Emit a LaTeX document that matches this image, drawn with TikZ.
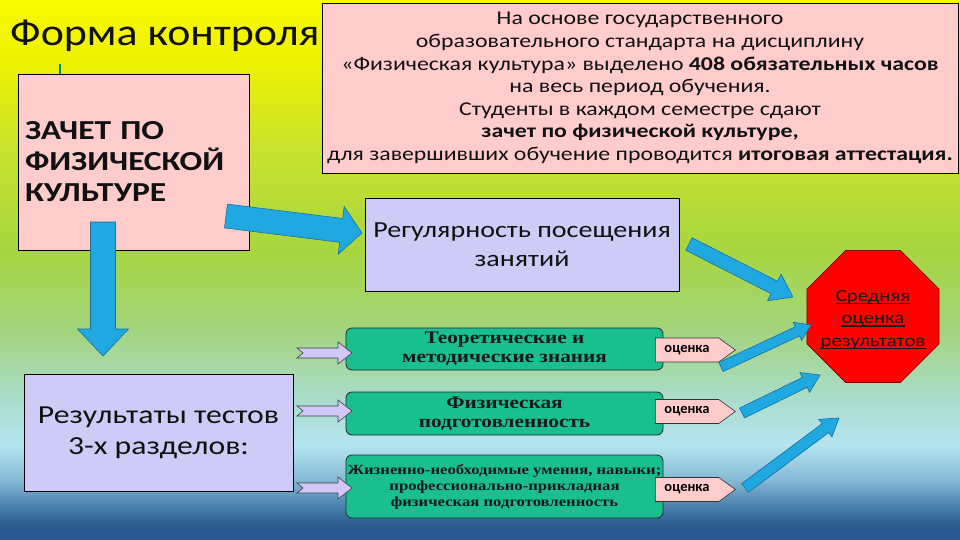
\documentclass[tikz,border=0pt]{standalone}
\usepackage{fontspec}
\setmainfont{Carlito}[FakeStretch=1.22]
\newfontfamily\plainfont{Carlito}
\newfontfamily\grfont{Liberation Serif}[FakeStretch=1.2]
\usetikzlibrary{calc,shapes.geometric,shapes.arrows,shapes.symbols}
\definecolor{bg0}{HTML}{FAFA00}
\definecolor{bg1}{HTML}{EEF200}
\definecolor{bg2}{HTML}{C8E22E}
\definecolor{bg3}{HTML}{A8D640}
\definecolor{bg4}{HTML}{A2D47E}
\definecolor{bg5}{HTML}{AADCCC}
\definecolor{bg6}{HTML}{B4E4F0}
\definecolor{bg7}{HTML}{86BAD6}
\definecolor{bg8}{HTML}{4A82B0}
\definecolor{bg9}{HTML}{2A5A90}
\pgfdeclareverticalshading{bgshade}{100bp}{color(0bp)=(bg9); color(25bp)=(bg9); color(26.4bp)=(bg9); color(28.2bp)=(bg8); color(30.6bp)=(bg7); color(33.8bp)=(bg6); color(38bp)=(bg5); color(44.4bp)=(bg4); color(51.9bp)=(bg3); color(61.1bp)=(bg2); color(69.4bp)=(bg1); color(75bp)=(bg0); color(100bp)=(bg0)}
\definecolor{pinkfill}{HTML}{FFCCCC}
\definecolor{lavfill}{HTML}{CECCF6}
\definecolor{greenfill}{HTML}{19BF8F}
\definecolor{arrowfill}{HTML}{20A8E0}
\definecolor{arrowedge}{HTML}{1670A0}
\definecolor{chevfill}{HTML}{D2C8F8}
\definecolor{darkred}{HTML}{800000}
\definecolor{txtdark}{HTML}{111111}
\newcommand\blockarr[5]{%
  \coordinate (ba-h) at ($(#2)!#5!(#1)$);
  \filldraw[blockarrow] ($(#1)!#3!90:(#2)$) -- ($(ba-h)!#3!90:(#2)$) -- ($(ba-h)!#4!90:(#2)$) -- (#2) -- ($(ba-h)!#4!-90:(#2)$) -- ($(ba-h)!#3!-90:(#2)$) -- ($(#1)!#3!-90:(#2)$) -- cycle;}
\newcommand\chevarr[1]{%
  \filldraw[chevarrow, shift={(#1)}] (0,-5) -- (41,-5) -- (41,-11) -- (55,0) -- (41,11) -- (41,5) -- (0,5) -- (6,0) -- cycle;}
\begin{document}
\begin{tikzpicture}[x=1pt,y=-1pt,
  pinkbox/.style={draw=black, fill=pinkfill, line width=0.8pt},
  lavbox/.style={draw=black, fill=lavfill, line width=0.8pt},
  greenbox/.style={draw=black!85, fill=greenfill, line width=0.8pt, rounded corners=6pt, minimum width=317, inner sep=0pt, align=center, text=black!90, font=\grfont\bfseries\fontsize{17.7}{19}\selectfont},
  markbox/.style={signal, signal to=east, signal pointer angle=72, draw=black!80, fill=pinkfill, line width=0.6pt, minimum width=80, minimum height=24, inner sep=1pt, anchor=west, font=\plainfont\bfseries\fontsize{14.5}{15}\selectfont},
  blockarrow/.style={fill=arrowfill, draw=arrowedge, line width=0.6pt, line join=miter},
  chevarrow/.style={fill=chevfill, draw=black!75, line width=0.6pt},
  avgline/.style={inner sep=0pt, text=black!90, font=\fontsize{17}{20}\selectfont},
  ulrule/.style={draw=black!90, line width=1.1pt}]
\useasboundingbox (0,0) rectangle (960,540);
\shade[shading=bgshade] (0,0) rectangle (960,540);

\node[anchor=base west, inner sep=0pt, text=txtdark, font=\plainfont\fontsize{38}{40}\selectfont, xscale=1.155] (title) at (10,46) {Форма контроля};
\coordinate (tickA) at (60,64);
\coordinate (tickB) at (60,74);
\draw[line width=1.5pt, color=green!50!blue] (tickA) -- (tickB);

\node[pinkbox, minimum height=176, text width=217, inner xsep=7pt, align=left, text=txtdark, font=\bfseries\fontsize{27.5}{31}\selectfont] (zachet) at (133.5,162) {ЗАЧЕТ ПО\\ФИЗИЧЕСКОЙ\\КУЛЬТУРЕ};

\node[pinkbox, minimum width=636, minimum height=170, inner sep=0pt, align=center, text=txtdark, font=\fontsize{19.5}{22.6}\selectfont] (info) at (640,88) {На основе государственного\\образовательного стандарта на дисциплину\\«Физическая культура» выделено \textbf{408 обязательных часов}\\на весь период обучения.\\Студенты в каждом семестре сдают\\\textbf{зачет по физической культуре,}\\для завершивших обучение проводится \textbf{итоговая аттестация.}};

\node[lavbox, minimum width=314, minimum height=93, inner sep=0pt, align=center, text=txtdark, font=\fontsize{23}{29}\selectfont] (reg) at (522,244.5) {Регулярность посещения\\занятий};

\node[lavbox, minimum width=269, minimum height=117, inner sep=0pt, align=center, text=txtdark, font=\fontsize{26}{31}\selectfont] (res) at (158.5,433) {Результаты тестов\\3-х разделов:};

\node[greenbox, minimum height=42] (g1) at (504.5,349) {Теоретические и\\методические знания};
\node[greenbox, minimum height=43] (g2) at (504.5,413.5) {Физическая\\подготовленность};
\node[greenbox, minimum height=63, font=\grfont\bfseries\fontsize{13.9}{16}\selectfont] (g3) at (504.5,486.5) {Жизненно-необходимые умения, навыки;\\профессионально-прикладная\\физическая подготовленность};

\node[markbox] (m1) at (655,350) {оценка};
\node[markbox] (m2) at (655,411.5) {оценка};
\node[markbox] (m3) at (655,489.5) {оценка};

\node[regular polygon, regular polygon sides=8, minimum size=143, inner sep=0pt, fill=red, draw=darkred, line width=0.8pt] (avg) at (873,316.5) {};
\node[avgline, anchor=base] (avg1) at (873,301) {Средняя};
\node[avgline, anchor=base] (avg2) at (873,323.5) {оценка};
\node[avgline, anchor=base] (avg3) at (873,346) {результатов};
\draw[ulrule] ([yshift=-2.5pt]avg1.base west) -- ([yshift=-2.5pt]avg1.base east);
\draw[ulrule] ([yshift=-2.5pt]avg2.base west) -- ([yshift=-2.5pt]avg2.base east);
\draw[ulrule] ([yshift=-2.5pt]avg3.base west) -- ([yshift=-2.5pt]avg3.base east);

\coordinate (c1) at (297,353);
\coordinate (c2) at (297,411);
\coordinate (c3) at (297,488);
\chevarr{c1}
\chevarr{c2}
\chevarr{c3}

\coordinate (dA) at (103,222);
\coordinate (dB) at (103,356);
\blockarr{dA}{dB}{12.5pt}{25.5pt}{27pt}
\coordinate (pA) at (226,216);
\coordinate (pB) at (362,233);
\blockarr{pA}{pB}{12pt}{24pt}{21pt}
\coordinate (rA) at (689,244);
\coordinate (rB) at (793,297);
\blockarr{rA}{rB}{7pt}{15pt}{21pt}
\coordinate (o1A) at (721,367);
\coordinate (o1B) at (811,325);
\blockarr{o1A}{o1B}{5pt}{10pt}{15pt}
\coordinate (o2A) at (742,413);
\coordinate (o2B) at (820,375);
\blockarr{o2A}{o2B}{5.5pt}{11pt}{17pt}
\coordinate (o3A) at (745,488);
\coordinate (o3B) at (839,418);
\blockarr{o3A}{o3B}{5.5pt}{11pt}{17pt}
\end{tikzpicture}
\end{document}
